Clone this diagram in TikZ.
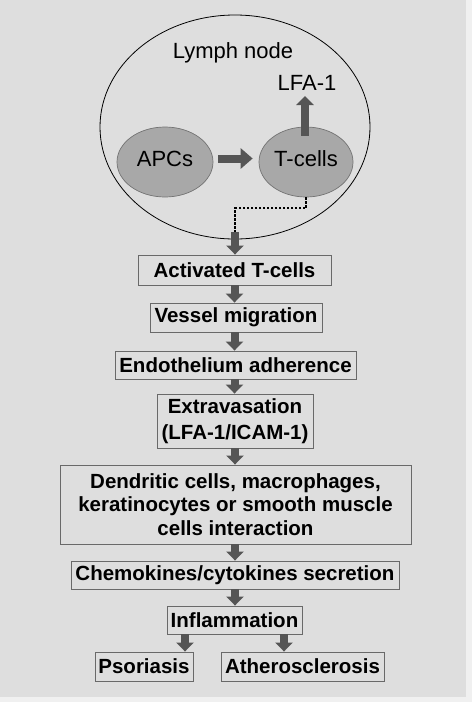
\documentclass[tikz,border=0pt]{standalone}
\usepackage{fontspec}
\setmainfont{Liberation Sans}
\usetikzlibrary{shapes.geometric,arrows.meta}
\definecolor{bg}{RGB}{222,222,222}
\definecolor{strip}{RGB}{240,240,240}
\definecolor{cellfill}{RGB}{168,168,168}
\definecolor{arrowgray}{RGB}{85,85,85}
\definecolor{boxline}{RGB}{105,105,105}
\tikzset{
  stepbox/.style={draw=boxline, line width=0.9pt, fill=bg, inner sep=0pt, align=center,
    font=\fontsize{20.5}{24}\selectfont\bfseries},
  cell/.style={ellipse, draw=black!55, line width=0.7pt, fill=cellfill, inner sep=0pt,
    font=\fontsize{22}{24}\selectfont},
  plain/.style={inner sep=0pt, font=\fontsize{22}{24}\selectfont},
  blk/.style={draw=arrowgray, line width=8pt, -{Triangle[width=17pt,length=9pt]}, arrowgray},
  hblk/.style={draw=arrowgray, line width=8pt, -{Triangle[width=20pt,length=12pt]}, arrowgray},
  dotline/.style={draw=black, line width=2pt, dash pattern=on 2.2pt off 1.8pt}
}
\begin{document}
\begin{tikzpicture}[x=1pt,y=-1pt]
\fill[strip] (0,0) rectangle (472,702);
\fill[bg] (0,0) rectangle (466,697);
\useasboundingbox (0,0) rectangle (472,702);

% lymph node
\node[ellipse, draw=black, line width=0.8pt, minimum width=270pt, minimum height=224pt, inner sep=0pt] (ln) at (235,127) {};
\node[plain] (lnlabel) at (233,53) {Lymph node};
\node[cell, minimum width=96pt, minimum height=70pt] (apc) at (165,162) {};
\node[plain] (apctext) at (165,158.5) {APCs};
\node[cell, minimum width=94pt, minimum height=70pt] (tc) at (306,162) {};
\node[plain] (tctext) at (306,158.5) {T-cells};
\node[plain, anchor=base] (lfa) at (307,90) {LFA-1};
\coordinate (lfaarr) at (305,96);
\coordinate (dstart) at (235,232);

% boxes
\node[stepbox, minimum width=193pt, minimum height=30pt] (act) at (234.5,270) {Activated T-cells};
\node[stepbox, minimum width=172pt, minimum height=29pt] (ves) at (236,317.5) {Vessel migration};
\node[stepbox, minimum width=241pt, minimum height=28pt] (endo) at (235.5,365) {Endothelium adherence};
\node[stepbox, minimum width=156pt, minimum height=54pt, font=\fontsize{20.5}{26}\selectfont\bfseries] (extra) at (235,421) {Extravasation\\(LFA-1/ICAM-1)};
\node[stepbox, minimum width=351pt, minimum height=79pt, font=\fontsize{20.5}{23.5}\selectfont\bfseries] (dend) at (235.5,504.5) {Dendritic cells, macrophages,\\keratinocytes or smooth muscle\\cells interaction};
\node[stepbox, minimum width=328pt, minimum height=28pt] (chem) at (235,575) {Chemokines/cytokines secretion};
\node[stepbox, minimum width=135pt, minimum height=28pt] (infl) at (234.5,620) {Inflammation};
\node[stepbox, minimum width=98pt, minimum height=29pt] (pso) at (144,666.5) {Psoriasis};
\node[stepbox, minimum width=163pt, minimum height=29pt] (ath) at (302.5,666.5) {Atherosclerosis};

% connectors inside lymph node
\draw[hblk] ([xshift=5pt,yshift=3.5pt]apc.east) -- ([xshift=-6pt,yshift=3.5pt]tc.west);
\draw[blk] ([xshift=-1pt,yshift=-9pt]tc.north) -- (lfaarr);
\draw[dotline] (tc.south) -- ++(0,11) -| (dstart);
\draw[blk] (dstart) -- (dstart |- act.north);

% flow
\draw[blk] (act.south) -- (act.south |- ves.north);
\draw[blk] (ves.south -| act.south) -- (act.south |- endo.north);
\draw[blk] (endo.south -| act.south) -- (act.south |- extra.north);
\draw[blk] (extra.south) -- (extra.south |- dend.north);
\draw[blk] (dend.south -| extra.south) -- (extra.south |- chem.north);
\draw[blk] (chem.south) -- (chem.south |- infl.north);
\draw[blk] ([xshift=-49.5pt]infl.south) -- ([xshift=-49.5pt]infl.south |- pso.north);
\draw[blk] ([xshift=49.5pt]infl.south) -- ([xshift=49.5pt]infl.south |- ath.north);
\end{tikzpicture}
\end{document}
